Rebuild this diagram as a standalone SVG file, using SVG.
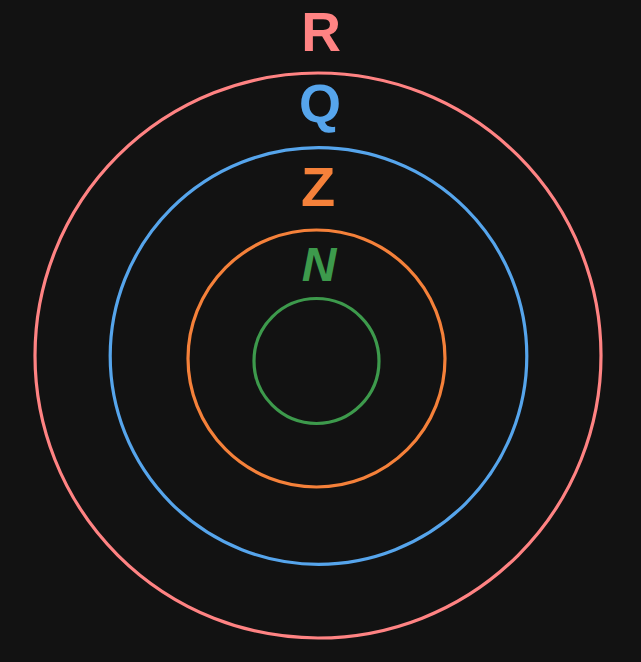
<svg xmlns="http://www.w3.org/2000/svg" width="641" height="662" viewBox="0 0 641 662">
<style>
.c{fill:none;stroke-width:3.2}
.t{font-family:"Liberation Sans",Arial,sans-serif;font-weight:bold;text-anchor:middle}
</style>
<rect width="641" height="662" fill="#121212"/>
<g id="R"><ellipse class="c" cx="318" cy="355.5" rx="283" ry="282.5" stroke="#ff8383"/>
<text class="t" x="321" y="51" font-size="55" fill="#ff8383">R</text></g>
<g id="Q"><circle class="c" cx="318.5" cy="356" r="208.3" stroke="#56a5ec"/>
<text class="t" x="320" y="122" font-size="54" fill="#56a5ec">Q</text></g>
<g id="Z"><circle class="c" cx="316.5" cy="358.5" r="128.5" stroke="#f5813a"/>
<text class="t" x="318" y="206" font-size="56" fill="#f5813a">Z</text></g>
<g id="N"><circle class="c" cx="316.5" cy="361" r="62.5" stroke="#3d9a4c"/>
<text class="t" x="319" y="281" font-size="48" font-style="italic" fill="#3d9a4c">N</text></g>
<g id="connectors"/>
</svg>
